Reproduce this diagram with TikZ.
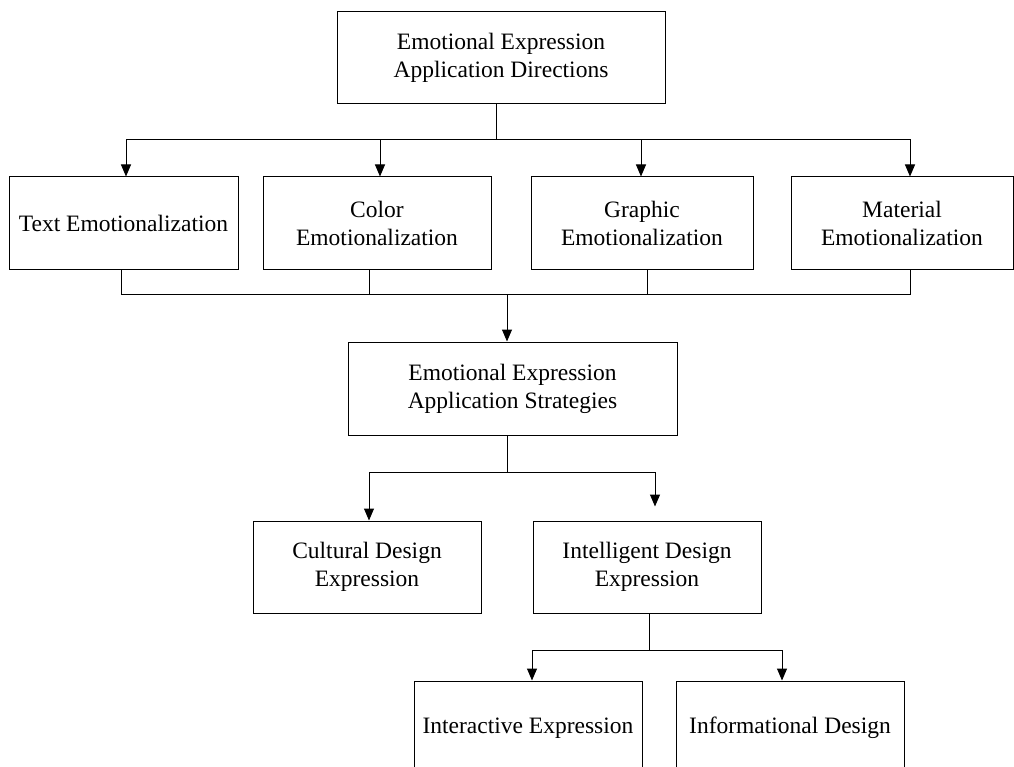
\documentclass[tikz,border=0pt]{standalone}
\usepackage{fontspec}
\setmainfont{Liberation Serif}
\usetikzlibrary{arrows.meta,calc}

\begin{document}
\begin{tikzpicture}[x=1pt,y=-1pt,
  box/.style={draw,line width=1pt,align=center,inner sep=0pt,
    minimum width=228pt,minimum height=93pt,font=\fontsize{23.5}{28}\selectfont},
  link/.style={line width=1pt},
  arr/.style={link,-{Triangle[width=10pt,length=12pt]}}]
  \path[use as bounding box,clip] (0,0) rectangle (1014,767);
  % top level
  \node[box,minimum width=328pt,minimum height=92pt] (dirs) at (501,58)
    {Emotional Expression\\Application Directions};
  % four directions
  \node[box,minimum width=229pt] (txt) at (123.5,223.5) {Text Emotionalization};
  \node[box] (col) at (377,223.5) {Color\\Emotionalization};
  \node[box,minimum width=222pt] (gra) at (642,223.5) {Graphic\\Emotionalization};
  \node[box,minimum width=222pt] (mat) at (902,223.5) {Material\\Emotionalization};
  % strategies
  \node[box,minimum width=329pt] (strat) at (512.5,388.5)
    {Emotional Expression\\Application Strategies};
  \node[box,minimum height=92pt] (cul) at (367,567) {Cultural Design\\Expression};
  \node[box,minimum height=92pt] (intel) at (647,567) {Intelligent Design\\Expression};
  \node[box,minimum height=94pt] (inter) at (528,728) {Interactive Expression};
  \node[box,minimum height=94pt] (info) at (790,728) {Informational Design};
  % bus lines
  \coordinate (busA) at (496,140);
  \coordinate (busB) at (507,294);
  \coordinate (busC) at (507,472);
  \coordinate (busD) at (649,650);
  % directions -> four boxes
  \draw[link] (dirs.south -| busA) -- (busA);
  \draw[arr] (busA) -| ([xshift=2.5pt]txt.north);
  \draw[arr] (busA) -| ([xshift=3pt]col.north);
  \draw[arr] (busA) -| ([xshift=-1pt]gra.north);
  \draw[arr] (busA) -| ([xshift=8pt]mat.north);
  % four boxes -> strategies
  \draw[link] ([xshift=-2.5pt]txt.south) |- (busB);
  \draw[link] ([xshift=-8pt]col.south) |- (busB);
  \draw[link] ([xshift=5pt]gra.south) |- (busB);
  \draw[link] ([xshift=8pt]mat.south) |- (busB);
  \draw[arr] (busB) -- (busB |- strat.north);
  % strategies -> design expressions
  \draw[link] (strat.south -| busC) -- (busC);
  \draw[arr] (busC) -| ([xshift=2pt]cul.north);
  \draw[arr,shorten >=14pt] (busC) -| ([xshift=8pt]intel.north);
  % intelligent -> sub items
  \draw[link] (intel.south -| busD) -- (busD);
  \draw[arr] (busD) -| ([xshift=4pt]inter.north);
  \draw[arr] (busD) -| ([xshift=-8pt]info.north);
\end{tikzpicture}
\end{document}
